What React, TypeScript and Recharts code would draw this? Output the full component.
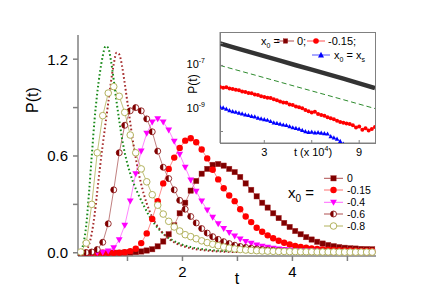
import { LineChart, Line, XAxis, YAxis, CartesianGrid } from "recharts";

const FONT = "'Liberation Sans', Arial, Helvetica, sans-serif";

// ---- main panel: simulated P(t) for several x0 (markers) ----
const tSim = [
  0.15, 0.25, 0.35, 0.45, 0.55, 0.65, 0.75, 0.85, 0.95,
  1.05, 1.15, 1.25, 1.35, 1.45, 1.55, 1.65, 1.75, 1.85, 1.95,
  2.05, 2.15, 2.25, 2.35, 2.45, 2.55, 2.65, 2.75, 2.85, 2.95,
  3.05, 3.15, 3.25, 3.35, 3.45, 3.55, 3.65, 3.75, 3.85, 3.95,
  4.05, 4.15, 4.25, 4.35, 4.45, 4.55, 4.65, 4.75, 4.85, 4.95,
  5.05, 5.15, 5.25, 5.35, 5.45,
];

const p0 = [
  0, 0, 0, 0, 0, 0, 0, 0, 0.001,
  0.002, 0.004, 0.008, 0.014, 0.022, 0.04, 0.07, 0.115, 0.17, 0.245,
  0.31, 0.385, 0.445, 0.49, 0.52, 0.545, 0.55, 0.54, 0.52, 0.5,
  0.47, 0.43, 0.39, 0.35, 0.31, 0.28, 0.245, 0.215, 0.185, 0.16,
  0.135, 0.115, 0.097, 0.082, 0.068, 0.057, 0.048, 0.041, 0.035, 0.031,
  0.028, 0.026, 0.024, 0.023, 0.022,
];

const p015 = [
  0, 0, 0, 0, 0, 0, 0, 0.001, 0.004,
  0.01, 0.025, 0.06, 0.12, 0.21, 0.32, 0.43, 0.52, 0.59, 0.65,
  0.695, 0.71, 0.685, 0.64, 0.585, 0.515, 0.455, 0.4, 0.355, 0.32,
  0.27, 0.225, 0.19, 0.155, 0.13, 0.108, 0.09, 0.075, 0.062, 0.052,
  0.043, 0.036, 0.031, 0.027, 0.024, 0.021, 0.019, 0.017, 0.016, 0.015,
  0.014, 0.013, 0.012, 0.012, 0.011,
];

const p04 = [
  0, 0, 0, 0.001, 0.003, 0.01, 0.03, 0.08, 0.17,
  0.32, 0.49, 0.63, 0.74, 0.81, 0.83, 0.81, 0.76, 0.69, 0.61,
  0.53, 0.45, 0.38, 0.32, 0.265, 0.22, 0.18, 0.15, 0.125, 0.103,
  0.085, 0.07, 0.058, 0.048, 0.04, 0.033, 0.028, 0.023, 0.019, 0.016,
  0.014, 0.012, 0.011, 0.01, 0.009, 0.008, 0.007, 0.007, 0.006, 0.006,
  0.005, 0.005, 0.005, 0.004, 0.004,
];

const p06 = [
  0, 0.001, 0.005, 0.02, 0.065, 0.18, 0.39, 0.62, 0.79,
  0.88, 0.9, 0.88, 0.83, 0.75, 0.63, 0.53, 0.46, 0.39, 0.325,
  0.27, 0.225, 0.185, 0.15, 0.122, 0.1, 0.083, 0.069, 0.057, 0.047,
  0.039, 0.033, 0.028, 0.024, 0.02, 0.017, 0.015, 0.013, 0.011, 0.01,
  0.009, 0.008, 0.007, 0.007, 0.006, 0.006, 0.005, 0.005, 0.005, 0.004,
  0.004, 0.004, 0.004, 0.003, 0.003,
];

const p08 = [
  0.005, 0.06, 0.3, 0.62, 0.85, 0.99, 1.03, 0.97, 0.87,
  0.73, 0.62, 0.52, 0.44, 0.36, 0.295, 0.24, 0.195, 0.16, 0.135,
  0.112, 0.1, 0.087, 0.074, 0.063, 0.053, 0.044, 0.036, 0.029, 0.024,
  0.02, 0.017, 0.015, 0.013, 0.011, 0.01, 0.009, 0.008, 0.008, 0.007,
  0.007, 0.006, 0.006, 0.006, 0.005, 0.005, 0.005, 0.005, 0.004, 0.004,
  0.004, 0.004, 0.004, 0.004, 0.004,
];

// ---- main panel: dotted theory curves ----
const tTheory = [
  0.1, 0.15, 0.2, 0.25, 0.3, 0.35, 0.4, 0.45, 0.5, 0.55,
  0.6, 0.65, 0.7, 0.75, 0.8, 0.85, 0.9, 0.95, 1.0,
  1.1, 1.2, 1.3, 1.4, 1.5, 1.6, 1.7, 1.8, 1.9, 2.0,
  2.2, 2.4, 2.6, 2.8, 3.0,
];
const theoryGreen = [
  0, 0.01, 0.06, 0.17, 0.37, 0.6, 0.82, 0.99, 1.12, 1.22,
  1.28, 1.27, 1.19, 1.07, 0.94, 0.82, 0.71, 0.62, 0.55,
  0.44, 0.36, 0.29, 0.225, 0.175, 0.135, 0.105, 0.082, 0.064, 0.05,
  0.032, 0.021, 0.014, 0.01, 0.007,
];
const theoryRed = [
  0, 0, 0.003, 0.015, 0.05, 0.12, 0.23, 0.38, 0.53, 0.67,
  0.8, 0.93, 1.06, 1.17, 1.24, 1.23, 1.16, 1.05, 0.93,
  0.69, 0.5, 0.36, 0.26, 0.19, 0.14, 0.1, 0.075, 0.056, 0.042,
  0.025, 0.015, 0.009, 0.006, 0.004,
];

const xTicks = [1, 2, 3, 4, 5];
const yTicks = [0, 0.3, 0.6, 0.9, 1.2];
const legendLabels = ["0", "-0.15", "-0.4", "-0.6", "-0.8"];

// ---- inset: long-time tails (t in units of 1e4, P in units of 1e-9) ----
const tBlack = [0.2, 1, 2, 3, 4, 5, 6, 7, 8, 9, 10];
const pBlack = [1000, 680, 425, 265, 164, 102, 64, 40, 25, 15.3, 9.3];
const tDash = [0.2, 2.5, 5, 7.5, 10];
const pDash = [100, 35, 11, 3.5, 1.1];
const tRed = [
  0.2, 0.4, 0.6, 0.8, 1.0, 1.2, 1.4, 1.6, 1.8, 2.0,
  2.2, 2.4, 2.6, 2.8, 3.0, 3.2, 3.4, 3.6, 3.8, 4.0,
  4.2, 4.4, 4.6, 4.8, 5.0, 5.2, 5.4, 5.6, 5.8, 6.0,
  6.2, 6.4, 6.6, 6.8, 7.0, 7.2, 7.4, 7.6, 7.8, 8.0,
  8.2, 8.4, 8.6, 8.8, 9.0, 9.2, 9.4, 9.6, 9.8, 10.0,
];
const pRed = [
  10.5, 9.8, 10.1, 9.0, 8.6, 7.9, 7.4, 6.6, 6.2, 5.6,
  5.4, 4.8, 4.5, 4.0, 3.7, 3.4, 3.3, 2.9, 2.6, 2.3,
  2.1, 2.0, 1.7, 1.6, 1.35, 1.25, 1.15, 0.95, 0.82, 0.72,
  0.78, 0.62, 0.56, 0.52, 0.44, 0.4, 0.36, 0.31, 0.27, 0.25,
  0.23, 0.22, 0.19, 0.15, 0.17, 0.12, 0.14, 0.11, 0.13, 0.16,
];
const tBlue = [
  0.2, 0.4, 0.6, 0.8, 1.0, 1.2, 1.4, 1.6, 1.8, 2.0,
  2.2, 2.4, 2.6, 2.8, 3.0, 3.2, 3.4, 3.6, 3.8, 4.0,
  4.2, 4.4, 4.6, 4.8, 5.0, 5.2, 5.4, 5.6, 5.8, 6.0,
  6.2, 6.4, 6.6, 6.8, 7.0, 7.2, 7.4, 7.6, 7.8, 8.0,
];
const pBlue = [
  1.3, 1.2, 1.05, 0.9, 0.82, 0.76, 0.7, 0.64, 0.58, 0.54,
  0.49, 0.47, 0.41, 0.38, 0.35, 0.33, 0.29, 0.25, 0.24, 0.22,
  0.2, 0.19, 0.17, 0.15, 0.14, 0.13, 0.115, 0.1, 0.093, 0.095,
  0.088, 0.09, 0.086, 0.082, 0.078, 0.06, 0.052, 0.046, 0.036, 0.027,
];
const insetYTicks = [1e-6, 1e-7, 1e-8, 1e-9, 1e-10];
const insetXTicks = [3, 6, 9];

const simRows = tSim.map((t, i) => ({
  t,
  a: p0[i],
  b: p015[i],
  c: p04[i],
  d: p06[i],
  e: p08[i],
}));
const greenRows = tTheory.map((t, i) => ({ t, v: theoryGreen[i] }));
const redRows = tTheory.map((t, i) => ({ t, v: theoryRed[i] }));
const toRows = (ts: number[], ps: number[]) => ts.map((t, i) => ({ t, v: ps[i] * 1e-9 }));

// ---- marker shapes ----
const DARK = "#800000";
const OLIVE = "#b2b25c";

function square(x: number, y: number, s = 5.4, key?: string | number) {
  return <rect key={key} x={x - s / 2} y={y - s / 2} width={s} height={s} fill={DARK} stroke="#a33" strokeWidth={0.4} />;
}
function circle(x: number, y: number, r = 3.2, fill = "#ff0000", key?: string | number) {
  return <circle key={key} cx={x} cy={y} r={r} fill={fill} />;
}
function triDown(x: number, y: number, key?: string | number) {
  return <polygon key={key} points={`${x - 3.4},${y - 2.6} ${x + 3.4},${y - 2.6} ${x},${y + 3.4}`} fill="#ff00ff" />;
}
function triUp(x: number, y: number, s = 2.4, key?: string | number) {
  return <polygon key={key} points={`${x - s},${y + s * 0.8} ${x + s},${y + s * 0.8} ${x},${y - s * 1.1}`} fill="#0000ff" />;
}
function halfCircle(x: number, y: number, key?: string | number) {
  return (
    <g key={key}>
      <circle cx={x} cy={y} r={3} fill="#fff" stroke={DARK} strokeWidth={0.8} />
      <path d={`M${x},${y - 3} A3,3 0 0,0 ${x},${y + 3} Z`} fill={DARK} />
    </g>
  );
}
function openCircle(x: number, y: number, key?: string | number) {
  return <circle key={key} cx={x} cy={y} r={3.3} fill="#fff" stroke={OLIVE} strokeWidth={1} />;
}

type DotProps = { cx?: number; cy?: number; index?: number };
const dotOf = (draw: (x: number, y: number, key: string) => React.ReactElement) => (p: DotProps) => {
  const key = `d${p.index}`;
  if (p.cx == null || p.cy == null) return <g key={key} />;
  return draw(p.cx, p.cy, key);
};

function logTick(props: { x?: number; y?: number; payload?: { value: number }; index?: number }) {
  const { x = 0, y = 0, payload } = props;
  const e = Math.round(Math.log10(Number(payload?.value ?? 1)));
  if (e !== -7 && e !== -9) return <g key={`lt${props.index}`} />;
  return (
    <text key={`lt${props.index}`} x={x - 18} y={y + 3} textAnchor="end" fontSize={11} fill="#000" fontFamily={FONT}>
      10<tspan dy={-5} fontSize={7}>{e}</tspan>
    </text>
  );
}

const legendRows = [178.3, 190, 202.3, 214, 226];
const legendLines = ["#b05050", "#ff7070", "#ff66ff", "#b05050", OLIVE];
const legendMarks = [
  (x: number, y: number) => square(x, y),
  (x: number, y: number) => circle(x, y),
  (x: number, y: number) => triDown(x, y),
  (x: number, y: number) => halfCircle(x, y),
  (x: number, y: number) => openCircle(x, y),
];

export default function App() {
  const axisColor = "#808080";
  return (
    <div style={{ position: "absolute", left: 0, top: 0, width: 436, height: 308, background: "#fff", fontFamily: FONT }}>
      <div style={{ position: "absolute", left: 0, top: 0 }}>
        <LineChart width={436} height={308} margin={{ top: 35, right: 60, bottom: 22, left: 0 }}>
          <XAxis
            type="number"
            dataKey="t"
            domain={[0.1, 5.52]}
            allowDataOverflow
            ticks={xTicks}
            interval={0}
            tickFormatter={(v: number) => (v % 2 === 0 ? String(v) : "")}
            height={30}
            stroke={axisColor}
            strokeWidth={1.5}
            tickSize={5}
            tickMargin={5}
            tick={{ fill: "#000", fontSize: 15, fontFamily: FONT }}
          />
          <XAxis xAxisId="top" orientation="top" type="number" domain={[0.1, 5.52]} tick={false} tickLine={false} height={0} stroke={axisColor} strokeWidth={1.5} />
          <YAxis
            type="number"
            domain={[-0.02, 1.35]}
            allowDataOverflow
            ticks={yTicks}
            interval={0}
            tickFormatter={(v: number) => (Math.round(v * 10) % 6 === 0 ? v.toFixed(1) : "")}
            width={78}
            stroke={axisColor}
            strokeWidth={1.5}
            tickSize={5}
            tickMargin={5}
            tick={{ fill: "#000", fontSize: 15, fontFamily: FONT }}
          />
          <Line data={simRows} dataKey="a" stroke="#c07070" strokeWidth={0.8} dot={dotOf((x, y, k) => square(x, y, 5.4, k))} activeDot={false} isAnimationActive={false} />
          <Line data={simRows} dataKey="b" stroke="#ff7070" strokeWidth={0.8} dot={dotOf((x, y, k) => circle(x, y, 3.2, "#ff0000", k))} activeDot={false} isAnimationActive={false} />
          <Line data={simRows} dataKey="c" stroke="#ff66ff" strokeWidth={0.8} dot={dotOf((x, y, k) => triDown(x, y, k))} activeDot={false} isAnimationActive={false} />
          <Line data={simRows} dataKey="d" stroke="#b06060" strokeWidth={0.8} dot={dotOf((x, y, k) => halfCircle(x, y, k))} activeDot={false} isAnimationActive={false} />
          <Line data={simRows} dataKey="e" stroke={OLIVE} strokeWidth={0.8} dot={dotOf((x, y, k) => openCircle(x, y, k))} activeDot={false} isAnimationActive={false} />
          <Line data={greenRows} dataKey="v" type="monotone" stroke="#1a8a1a" strokeWidth={2} strokeDasharray="1.6 2.4" dot={false} activeDot={false} isAnimationActive={false} />
          <Line data={redRows} dataKey="v" type="monotone" stroke="#a52a2a" strokeWidth={2} strokeDasharray="1.6 2.4" dot={false} activeDot={false} isAnimationActive={false} />
        </LineChart>
      </div>

      {/* inset frame */}
      <div style={{ position: "absolute", left: 220, top: 32, width: 156, height: 112, boxSizing: "border-box", background: "#fff", border: `1px solid ${axisColor}` }} />
      <div style={{ position: "absolute", left: 160, top: 27 }}>
        <LineChart width={220} height={140} margin={{ top: 5, right: 5, bottom: 0, left: 0 }}>
          <CartesianGrid horizontal={false} vertical={false} />
          <XAxis
            type="number"
            dataKey="t"
            domain={[0.2, 10]}
            allowDataOverflow
            ticks={insetXTicks}
            interval={0}
            tickFormatter={(v: number) => (v === 6 ? "" : String(v))}
            height={24}
            stroke={axisColor}
            tickSize={-3}
            tickMargin={8}
            tick={{ fill: "#000", fontSize: 11, fontFamily: FONT }}
          />
          <YAxis
            type="number"
            scale="log"
            domain={[3e-11, 3.3e-6]}
            allowDataOverflow
            ticks={insetYTicks}
            interval={0}
            tick={logTick}
            width={60}
            stroke={axisColor}
            tickSize={-3}
            tickMargin={0}
          />
          <Line data={toRows(tBlack, pBlack)} dataKey="v" stroke="#333" strokeWidth={4.5} dot={false} activeDot={false} isAnimationActive={false} />
          <Line data={toRows(tDash, pDash)} dataKey="v" stroke="#2e8b2e" strokeWidth={1} strokeDasharray="5 3" dot={false} activeDot={false} isAnimationActive={false} />
          <Line data={toRows(tRed, pRed)} dataKey="v" stroke="#ff3030" strokeWidth={1} dot={dotOf((x, y, k) => circle(x, y, 2, "#ff0000", k))} activeDot={false} isAnimationActive={false} />
          <Line data={toRows(tBlue, pBlue)} dataKey="v" stroke="#5050ff" strokeWidth={0.8} dot={dotOf((x, y, k) => triUp(x, y, 2.2, k))} activeDot={false} isAnimationActive={false} />
        </LineChart>
      </div>

      {/* labels & legends */}
      <svg width={436} height={308} style={{ position: "absolute", left: 0, top: 0, pointerEvents: "none" }} fontFamily={FONT}>
        <text transform="translate(38,100) rotate(-90)" textAnchor="middle" fontSize={16} fill="#000">P(t)</text>
        <text x={237} y={284} textAnchor="middle" fontSize={16} fill="#000">t</text>

        <text x={288} y={198} fontSize={15} fill="#000">
          x<tspan fontSize={10} dy={4}>0</tspan>
          <tspan dy={-4}> =</tspan>
        </text>
        {legendLabels.map((lab, i) => (
          <g key={lab}>
            <line x1={324} x2={343} y1={legendRows[i]} y2={legendRows[i]} stroke={legendLines[i]} strokeWidth={1} />
            {legendMarks[i](333.5, legendRows[i])}
            <text x={347} y={legendRows[i] + 3.8} fontSize={10.5} fill="#000">{lab}</text>
          </g>
        ))}

        {/* inset labels */}
        <text transform="translate(197,84) rotate(-90)" textAnchor="middle" fontSize={12} fill="#000">P(t)</text>
        <text x={313} y={156} textAnchor="middle" fontSize={11} fill="#000">
          t (x 10<tspan dy={-5} fontSize={7}>4</tspan>
          <tspan dy={5}>)</tspan>
        </text>
        <text x={261} y={45} fontSize={11} fill="#000">
          x<tspan fontSize={7} dy={3}>0</tspan>
          <tspan dy={-3}> =</tspan>
        </text>
        <line x1={277} x2={294} y1={41} y2={41} stroke="#b05050" strokeWidth={1} />
        {square(285.5, 41, 4.5)}
        <text x={297} y={45} fontSize={11} fill="#000">0;</text>
        <line x1={307} x2={325} y1={41} y2={41} stroke="#ff5050" strokeWidth={1} />
        {circle(316, 41, 2.8)}
        <text x={328} y={45} fontSize={11} fill="#000">-0.15;</text>
        <line x1={312} x2={330} y1={55} y2={55} stroke="#5050ff" strokeWidth={1} />
        {triUp(321, 55, 3)}
        <text x={334} y={59} fontSize={11} fill="#000">
          x<tspan fontSize={7} dy={3}>0</tspan>
          <tspan dy={-3}> = x</tspan>
          <tspan fontSize={7} dy={3}>s</tspan>
        </text>
      </svg>
    </div>
  );
}
